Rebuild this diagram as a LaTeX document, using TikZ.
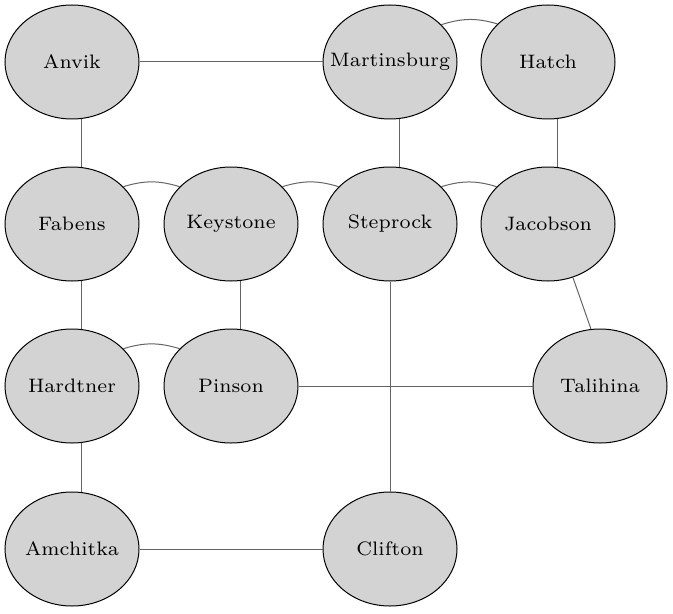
\documentclass[tikz,border=0pt]{standalone}
\usepackage{fontspec}
\setmainfont{lmroman7-regular.otf}
\usetikzlibrary{shapes.geometric}
\newcommand\ctxt[1]{\makebox[0pt]{#1}}
\begin{document}
\begin{tikzpicture}[x=0.75pt,y=-0.75pt,
  city/.style={ellipse,draw=black,line width=0.75pt,fill={rgb,255:red,211;green,211;blue,211},
    minimum width=100.5pt,minimum height=85.5pt,inner sep=0pt,font=\fontsize{14.6}{17}\selectfont},
  link/.style={draw={rgb,255:red,100;green,100;blue,100},line width=0.75pt}]
\useasboundingbox (0,0) rectangle (673,613);
\node[city] (Anvik) at (72,62) {\ctxt{Anvik}};
\node[city] (Martinsburg) at (390,62) {\ctxt{Martinsburg}};
\node[city] (Hatch) at (548,62) {\ctxt{Hatch}};
\node[city] (Fabens) at (72,224) {\ctxt{Fabens}};
\node[city] (Keystone) at (231,224) {\ctxt{Keystone}};
\node[city] (Steprock) at (390,224) {\ctxt{Steprock}};
\node[city] (Jacobson) at (548,224) {\ctxt{Jacobson}};
\node[city] (Hardtner) at (72,386) {\ctxt{Hardtner}};
\node[city] (Pinson) at (231,386) {\ctxt{Pinson}};
\node[city] (Talihina) at (600,386) {\ctxt{Talihina}};
\node[city] (Amchitka) at (72,549) {\ctxt{Amchitka}};
\node[city] (Clifton) at (390,549) {\ctxt{Clifton}};

\draw[link] (Anvik) -- (Martinsburg);
\draw[link] (Martinsburg.36) to[bend left=17] (Hatch.143);
\draw[link] (Anvik.-81) -- (Fabens.81);
\draw[link] (Martinsburg.-81) -- (Steprock.81);
\draw[link] (Hatch.-81) -- (Jacobson.81);
\draw[link] (Fabens.36) to[bend left=17] (Keystone.144);
\draw[link] (Keystone.36) to[bend left=17] (Steprock.144);
\draw[link] (Steprock.36) to[bend left=17] (Jacobson.144);
\draw[link] (Fabens.-81) -- (Hardtner.81);
\draw[link] (Keystone.-81) -- (Pinson.81);
\draw[link] (Steprock) -- (Clifton);
\draw[link] (Jacobson.-65) -- (Talihina.99);
\draw[link] (Hardtner.36) to[bend left=17] (Pinson.144);
\draw[link] (Pinson) -- (Talihina);
\draw[link] (Hardtner.-81) -- (Amchitka.81);
\draw[link] (Amchitka) -- (Clifton);
\end{tikzpicture}
\end{document}
